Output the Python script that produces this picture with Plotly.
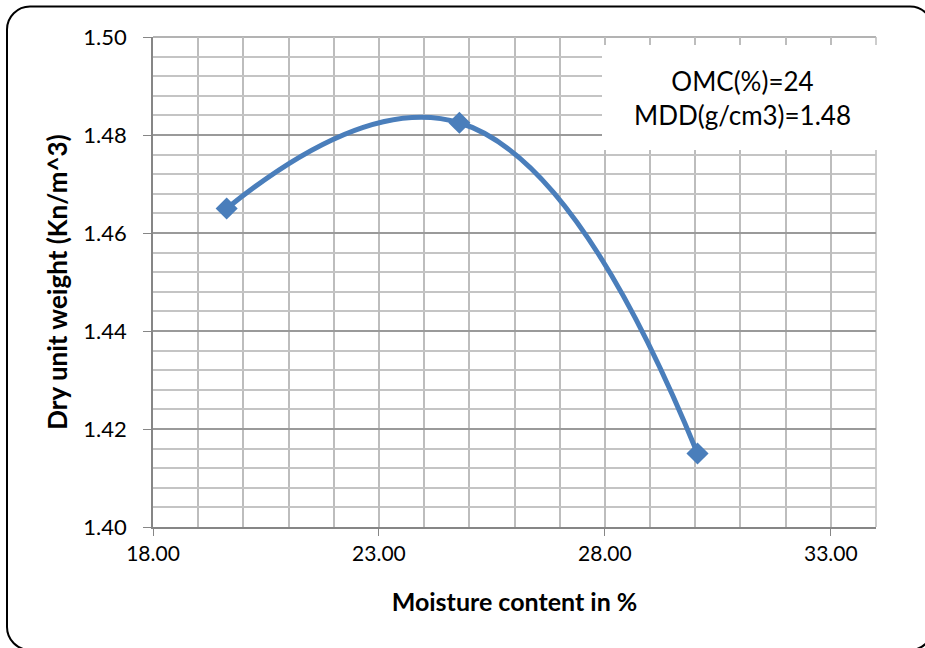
import plotly.graph_objects as go

# ---- data ----
moisture = [19.63, 24.78, 30.05]
dry_unit_weight = [1.465, 1.4825, 1.415]
x_ticks = [18.00, 23.00, 28.00, 33.00]
y_ticks = [1.40, 1.42, 1.44, 1.46, 1.48, 1.50]
note_lines = ["OMC(%)=24", "MDD(g/cm3)=1.48"]

W, H = 925, 648
L, R, T, B = 153, 876, 37, 527  # plot area in pixels


def px(x):
    return (x - L) / (R - L)


def py(y):
    return (B - y) / (B - T)


FONT = "Lato, Carlito, Calibri, sans-serif"
BLUE = "#4a7ebb"

fig = go.Figure()
fig.add_trace(go.Scatter(
    x=moisture, y=dry_unit_weight,
    mode="lines+markers",
    line=dict(color=BLUE, width=5, shape="spline", smoothing=1.3),
    marker=dict(symbol="diamond", size=17, color=BLUE),
    showlegend=False,
))

fig.update_layout(
    width=W, height=H,
    margin=dict(l=L, r=W - R, t=T, b=H - B),
    paper_bgcolor="white", plot_bgcolor="white",
    font=dict(family=FONT, color="black", size=21),
)

fig.update_xaxes(
    range=[18, 34],
    tickmode="array", tickvals=x_ticks,
    ticktext=[f"{v:.2f}" for v in x_ticks],
    ticks="outside", ticklen=7, tickcolor="#868686",
    showline=True, linecolor="#868686", linewidth=1.5,
    showgrid=True, gridcolor="#bdbdbd", gridwidth=1.5,
    minor=dict(dtick=1, tick0=18, showgrid=True, gridcolor="#bdbdbd", gridwidth=1.5),
    zeroline=False,
    tickfont=dict(size=21, family=FONT),
    title=dict(text="<b>Moisture content in %</b>", font=dict(size=25, family=FONT), standoff=30),
)
fig.update_yaxes(
    range=[1.40, 1.50],
    tickmode="array", tickvals=y_ticks,
    ticktext=[f"{v:.2f}" for v in y_ticks],
    ticks="outside", ticklen=8, tickcolor="#868686",
    ticklabelstandoff=12,
    showline=True, linecolor="#868686", linewidth=1.5,
    showgrid=True, gridcolor="#9a9a9a", gridwidth=1.5,
    minor=dict(dtick=0.004, tick0=1.40, showgrid=True, gridcolor="#c4c4c4", gridwidth=1.5),
    zeroline=False,
    tickfont=dict(size=22, family=FONT),
    title=dict(text="<b>Dry unit weight (Kn/m^3)</b>", font=dict(size=26, family=FONT), standoff=8),
)

# top and right plot border (gray gridline-like)
fig.add_shape(type="line", xref="paper", yref="paper", x0=0, x1=1, y0=1, y1=1,
              line=dict(color="#9a9a9a", width=1.5), layer="below")
fig.add_shape(type="line", xref="paper", yref="paper", x0=1, x1=1, y0=0, y1=1,
              line=dict(color="#bdbdbd", width=1.5), layer="below")

# white text box
fig.add_shape(type="rect", xref="paper", yref="paper",
              x0=px(602), x1=px(879), y0=py(150), y1=py(45),
              fillcolor="white", line=dict(width=0), layer="above")
fig.add_annotation(xref="paper", yref="paper", x=px(742), y=py(98.5),
                   text="<br>".join(note_lines), showarrow=False,
                   font=dict(size=26, family=FONT, color="black"),
                   xanchor="center", yanchor="middle", align="center")

# outer rounded border
x0b, y0b, x1b, y1b, r = 7, 6.5, 933, 650, 23
k = 0.45
path = (
    f"M {px(x0b + r)},{py(y0b)} L {px(x1b - r)},{py(y0b)} "
    f"C {px(x1b - r * k)},{py(y0b)} {px(x1b)},{py(y0b + r * k)} {px(x1b)},{py(y0b + r)} "
    f"L {px(x1b)},{py(y1b - r)} "
    f"C {px(x1b)},{py(y1b - r * k)} {px(x1b - r * k)},{py(y1b)} {px(x1b - r)},{py(y1b)} "
    f"L {px(x0b + r)},{py(y1b)} "
    f"C {px(x0b + r * k)},{py(y1b)} {px(x0b)},{py(y1b - r * k)} {px(x0b)},{py(y1b - r)} "
    f"L {px(x0b)},{py(y0b + r)} "
    f"C {px(x0b)},{py(y0b + r * k)} {px(x0b + r * k)},{py(y0b)} {px(x0b + r)},{py(y0b)} Z"
)
fig.add_shape(type="path", xref="paper", yref="paper", path=path,
              line=dict(color="black", width=2), fillcolor="rgba(0,0,0,0)", layer="above")

fig.write_html("out.html")
